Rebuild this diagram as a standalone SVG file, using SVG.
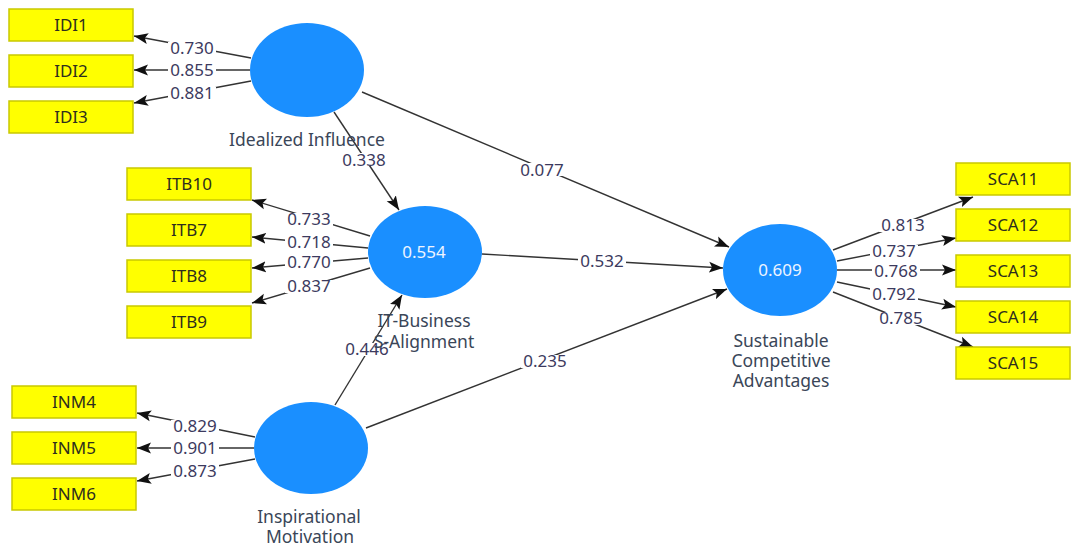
<svg xmlns="http://www.w3.org/2000/svg" width="1071" height="552" viewBox="0 0 1071 552">
<style>
.box{fill:#ffff00;stroke:#c9c900;stroke-width:1.5}
.bt{font-family:"Noto Sans","Liberation Sans",sans-serif;font-size:17px;fill:#2e2e1e;text-anchor:middle}
.lv{fill:#1a8fff}
.r2{font-family:"Noto Sans","Liberation Sans",sans-serif;font-size:17px;fill:#eef4ff;text-anchor:middle}
.nl{font-family:"Noto Sans","Liberation Sans",sans-serif;font-size:17.5px;fill:#3a4658;text-anchor:middle}
.cn line{stroke:#333;stroke-width:1.4;marker-end:url(#ah)}
.lb rect{fill:#fff}
.lb text{font-family:"Noto Sans","Liberation Sans",sans-serif;font-size:17px;fill:#3c3a5e;text-anchor:middle}
</style>
<defs>
<marker id="ah" markerUnits="userSpaceOnUse" markerWidth="16" markerHeight="12" refX="14" refY="6" orient="auto">
<path d="M0,0.5 L14,6 L0,11.5 L3,6 z" fill="#111"/>
</marker>
</defs>
<rect width="1071" height="552" fill="#fff"/>

<g id="connectors" class="cn">
<line x1="251" y1="58" x2="134" y2="36"/>
<line x1="250" y1="70" x2="134" y2="70"/>
<line x1="251" y1="81" x2="134" y2="103"/>
<line x1="334" y1="112" x2="399" y2="210"/>
<line x1="362" y1="92" x2="729" y2="247"/>
<line x1="482" y1="254" x2="723" y2="268"/>
<line x1="366" y1="428" x2="727" y2="289"/>
<line x1="335" y1="405" x2="402" y2="295"/>
<line x1="370" y1="236" x2="252" y2="200"/>
<line x1="368" y1="248" x2="252" y2="237"/>
<line x1="368" y1="258" x2="252" y2="268"/>
<line x1="370" y1="268" x2="252" y2="303"/>
<line x1="255" y1="437" x2="137" y2="413"/>
<line x1="254" y1="448" x2="137" y2="448"/>
<line x1="255" y1="459" x2="137" y2="481"/>
<line x1="833" y1="250" x2="973" y2="197"/>
<line x1="837" y1="261" x2="956" y2="238"/>
<line x1="837" y1="270" x2="956" y2="270"/>
<line x1="837" y1="282" x2="956" y2="307"/>
<line x1="833" y1="292" x2="973" y2="347"/>
</g>

<g id="path-labels" class="lb">
<rect x="168" y="42" width="48" height="13"/><text x="192" y="54">0.730</text>
<rect x="168" y="64" width="48" height="13"/><text x="192" y="76">0.855</text>
<rect x="168" y="87" width="48" height="13"/><text x="192" y="99">0.881</text>
<rect x="340" y="153" width="48" height="13"/><text x="364" y="166">0.338</text>
<rect x="518" y="163" width="48" height="13"/><text x="542" y="176">0.077</text>
<rect x="578" y="255" width="48" height="13"/><text x="602" y="267">0.532</text>
<rect x="521" y="355" width="48" height="13"/><text x="545" y="367">0.235</text>
<rect x="343" y="343" width="48" height="13"/><text x="367" y="355">0.446</text>
<rect x="285" y="213" width="48" height="13"/><text x="309" y="225">0.733</text>
<rect x="285" y="236" width="48" height="13"/><text x="309" y="248">0.718</text>
<rect x="285" y="256" width="48" height="13"/><text x="309" y="268">0.770</text>
<rect x="285" y="280" width="48" height="13"/><text x="309" y="292">0.837</text>
<rect x="171" y="420" width="48" height="13"/><text x="195" y="432">0.829</text>
<rect x="171" y="442" width="48" height="13"/><text x="195" y="454">0.901</text>
<rect x="171" y="465" width="48" height="13"/><text x="195" y="477">0.873</text>
<rect x="879" y="219" width="48" height="13"/><text x="903" y="231">0.813</text>
<rect x="870" y="245" width="48" height="13"/><text x="894" y="257">0.737</text>
<rect x="872" y="265" width="48" height="13"/><text x="896" y="277">0.768</text>
<rect x="870" y="288" width="48" height="13"/><text x="894" y="300">0.792</text>
<rect x="877" y="312" width="48" height="13"/><text x="901" y="324">0.785</text>
</g>

<g id="IDI1"><rect class="box" x="9" y="9" width="124" height="32"/><text class="bt" x="71" y="31">IDI1</text></g>
<g id="IDI2"><rect class="box" x="9" y="55" width="124" height="32"/><text class="bt" x="71" y="77">IDI2</text></g>
<g id="IDI3"><rect class="box" x="9" y="101" width="124" height="32"/><text class="bt" x="71" y="123">IDI3</text></g>

<g id="ITB10"><rect class="box" x="127" y="168" width="124" height="32"/><text class="bt" x="189" y="190">ITB10</text></g>
<g id="ITB7"><rect class="box" x="127" y="214" width="124" height="32"/><text class="bt" x="189" y="236">ITB7</text></g>
<g id="ITB8"><rect class="box" x="127" y="260" width="124" height="32"/><text class="bt" x="189" y="282">ITB8</text></g>
<g id="ITB9"><rect class="box" x="127" y="306" width="124" height="32"/><text class="bt" x="189" y="328">ITB9</text></g>

<g id="INM4"><rect class="box" x="12" y="386" width="124" height="32"/><text class="bt" x="74" y="408">INM4</text></g>
<g id="INM5"><rect class="box" x="12" y="432" width="124" height="32"/><text class="bt" x="74" y="454">INM5</text></g>
<g id="INM6"><rect class="box" x="12" y="478" width="124" height="32"/><text class="bt" x="74" y="500">INM6</text></g>

<g id="SCA11"><rect class="box" x="956" y="163" width="114" height="32"/><text class="bt" x="1013" y="185">SCA11</text></g>
<g id="SCA12"><rect class="box" x="956" y="209" width="114" height="32"/><text class="bt" x="1013" y="231">SCA12</text></g>
<g id="SCA13"><rect class="box" x="956" y="255" width="114" height="32"/><text class="bt" x="1013" y="277">SCA13</text></g>
<g id="SCA14"><rect class="box" x="956" y="301" width="114" height="32"/><text class="bt" x="1013" y="323">SCA14</text></g>
<g id="SCA15"><rect class="box" x="956" y="347" width="114" height="32"/><text class="bt" x="1013" y="369">SCA15</text></g>

<g id="IdealizedInfluence">
<ellipse class="lv" cx="307" cy="70" rx="57" ry="47"/>
<text class="nl" x="307" y="146">Idealized Influence</text>
</g>
<g id="ITBusinessAlignment">
<ellipse class="lv" cx="425" cy="252" rx="57" ry="46"/>
<text class="r2" x="424" y="258">0.554</text>
<text class="nl" x="424" y="327">IT-Business</text>
<text class="nl" x="424" y="348">S-Alignment</text>
</g>
<g id="InspirationalMotivation">
<ellipse class="lv" cx="311" cy="448" rx="57" ry="46"/>
<text class="nl" x="309" y="523">Inspirational</text>
<text class="nl" x="310" y="543">Motivation</text>
</g>
<g id="SustainableCompetitiveAdvantages">
<ellipse class="lv" cx="780" cy="270" rx="57" ry="46"/>
<text class="r2" x="780" y="276">0.609</text>
<text class="nl" x="781" y="347">Sustainable</text>
<text class="nl" x="781" y="367">Competitive</text>
<text class="nl" x="781" y="387">Advantages</text>
</g>
</svg>
